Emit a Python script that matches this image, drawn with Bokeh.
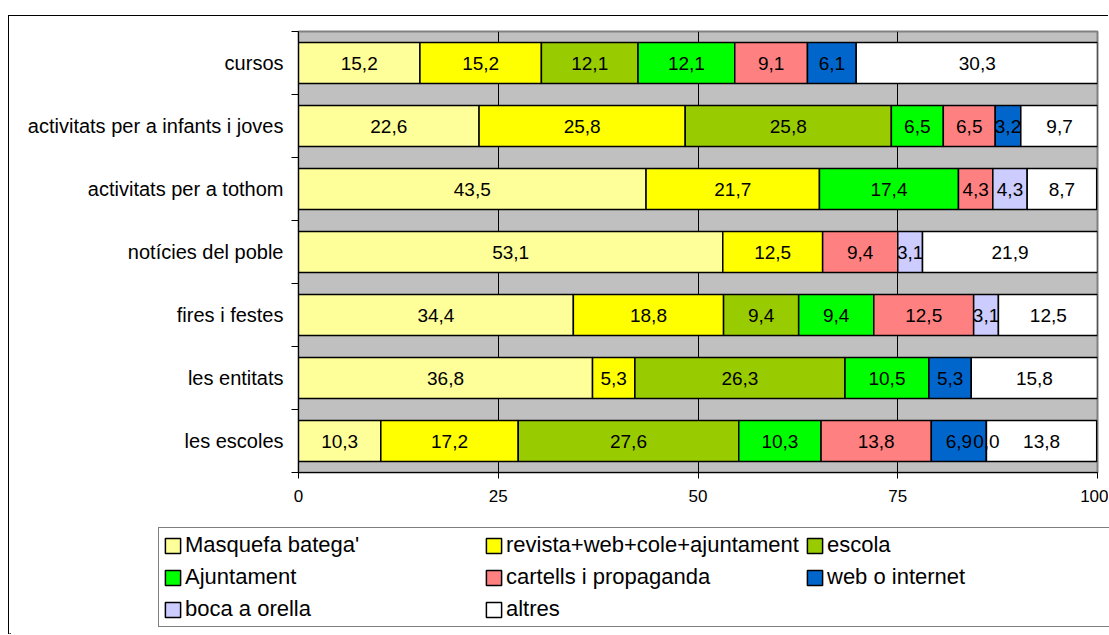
from bokeh.plotting import figure
from bokeh.models import (Range1d, FixedTicker, Legend, LegendItem, LabelSet,
                          ColumnDataSource)
from bokeh.core.properties import value
from bokeh.embed import file_html
from bokeh.resources import INLINE

categories = ["cursos", "activitats per a infants i joves", "activitats per a tothom",
              "notícies del poble", "fires i festes", "les entitats", "les escoles"]
series_names = ["Masquefa batega'", "revista+web+cole+ajuntament", "escola", "Ajuntament",
                "cartells i propaganda", "web o internet", "boca a orella", "altres"]
colors = ["#FFFF99", "#FFFF00", "#99CC00", "#00FF00", "#FF8080", "#0066CC", "#CCCCFF", "#FFFFFF"]
N = None
masquefa = [15.2, 22.6, 43.5, 53.1, 34.4, 36.8, 10.3]
revista = [15.2, 25.8, 21.7, 12.5, 18.8, 5.3, 17.2]
escola = [12.1, 25.8, N, N, 9.4, 26.3, 27.6]
ajuntament = [12.1, 6.5, 17.4, N, 9.4, 10.5, 10.3]
cartells = [9.1, 6.5, 4.3, 9.4, 12.5, N, 13.8]
web = [6.1, 3.2, N, N, N, 5.3, 6.9]
boca = [N, N, 4.3, 3.1, 3.1, N, 0.0]
altres = [30.3, 9.7, 8.7, 21.9, 12.5, 15.8, 13.8]
series = [masquefa, revista, escola, ajuntament, cartells, web, boca, altres]
x_ticks = [0, 25, 50, 75, 100]

FONT = "Liberation Sans"
n = len(categories)
centers = [n - i - 0.5 for i in range(n)]
boundaries = [float(b) for b in range(n + 1)]

# ---- main chart (its canvas reaches the bottom of the window) ----
p = figure(width=1100, height=619, output_backend="svg", toolbar_location=None,
           x_range=Range1d(0, 100), y_range=Range1d(0, n),
           min_border_left=289, min_border_right=12, min_border_top=15, min_border_bottom=163)
p.styles = {"margin-left": "8px", "margin-top": "15px",
            "border-left": "1px solid black", "border-top": "1px solid black"}
p.background_fill_color = "#C0C0C0"
p.border_fill_color = "white"
p.outline_line_color = "#808080"
p.outline_line_width = 2

p.xgrid.ticker = FixedTicker(ticks=[25, 50, 75])
p.xgrid.grid_line_color = "black"
p.xgrid.grid_line_width = 1
p.ygrid.visible = False

p.xaxis.ticker = FixedTicker(ticks=x_ticks)
p.xaxis.axis_line_color = "black"
p.xaxis.major_tick_out = 6
p.xaxis.major_tick_in = 0
p.xaxis.minor_tick_line_color = None
p.xaxis.major_label_standoff = 11
p.xaxis.major_label_text_font = FONT
p.xaxis.major_label_text_font_size = "17px"
p.xaxis.major_label_text_color = "black"

p.yaxis.ticker = FixedTicker(ticks=centers, minor_ticks=boundaries)
p.yaxis.major_label_overrides = {c: name for c, name in zip(centers, categories)}
p.yaxis.axis_line_color = "black"
p.yaxis.major_tick_out = 0
p.yaxis.major_tick_in = 0
p.yaxis.minor_tick_out = 7
p.yaxis.minor_tick_in = 0
p.yaxis.minor_tick_line_color = "black"
p.yaxis.major_label_standoff = 8
p.yaxis.major_label_text_font = FONT
p.yaxis.major_label_text_font_size = "20px"
p.yaxis.major_label_text_color = "black"

lefts = [0.0] * n
lab_x, lab_y, lab_t = [], [], []
for name, vals, col in zip(series_names, series, colors):
    ys, ls, rs = [], [], []
    for i, v in enumerate(vals):
        if v is None:
            continue
        ys.append(centers[i])
        ls.append(lefts[i])
        rs.append(lefts[i] + v)
        lab_x.append(lefts[i] + v / 2)
        lab_y.append(centers[i])
        lab_t.append(f"{v:.1f}".replace(".", ","))
        lefts[i] += v
    src = ColumnDataSource(dict(y=ys, left=ls, right=rs))
    p.hbar(y="y", left="left", right="right", height=0.65, source=src,
           fill_color=col, line_color="black", line_width=1.5)

labels = LabelSet(x="x", y="y", text="t",
                  source=ColumnDataSource(dict(x=lab_x, y=lab_y, t=lab_t)),
                  text_align="center", text_baseline="middle",
                  text_font=value(FONT), text_font_size="19px", text_color="black")
p.add_layout(labels)

# ---- legend strip: transparent, pulled up over the bottom of the chart canvas ----
W2, H2 = 1100, 115
p2 = figure(width=W2, height=H2, output_backend="svg", toolbar_location=None,
            x_range=Range1d(0, W2), y_range=Range1d(0, H2),
            x_axis_location=None, y_axis_location=None,
            min_border_left=0, min_border_right=0, min_border_top=0, min_border_bottom=0)
p2.styles = {"margin-left": "9px", "margin-top": f"-{H2}px"}
p2.grid.visible = False
p2.outline_line_color = None
p2.background_fill_alpha = 0
p2.border_fill_alpha = 0

items = []
for name, col in zip(series_names, colors):
    # swatch renderer for the legend only; its single bar lies outside the visible range
    r = p2.hbar(y=[-100], left=[0], right=[1], height=1,
                fill_color=col, line_color="black", line_width=1.5)
    items.append(LegendItem(label=name, renderers=[r]))

legend = Legend(items=items, location=(149, 7), orientation="horizontal", ncols=3,
                label_text_font=FONT, label_text_font_size="22px", label_text_color="black",
                glyph_width=19, glyph_height=19, label_standoff=3, label_width=293,
                label_height=22, spacing=6, padding=4, margin=0,
                border_line_color="black", border_line_width=1,
                background_fill_color="white", background_fill_alpha=1)
p2.add_layout(legend)

open("out.html", "w").write(file_html([p, p2], INLINE))
